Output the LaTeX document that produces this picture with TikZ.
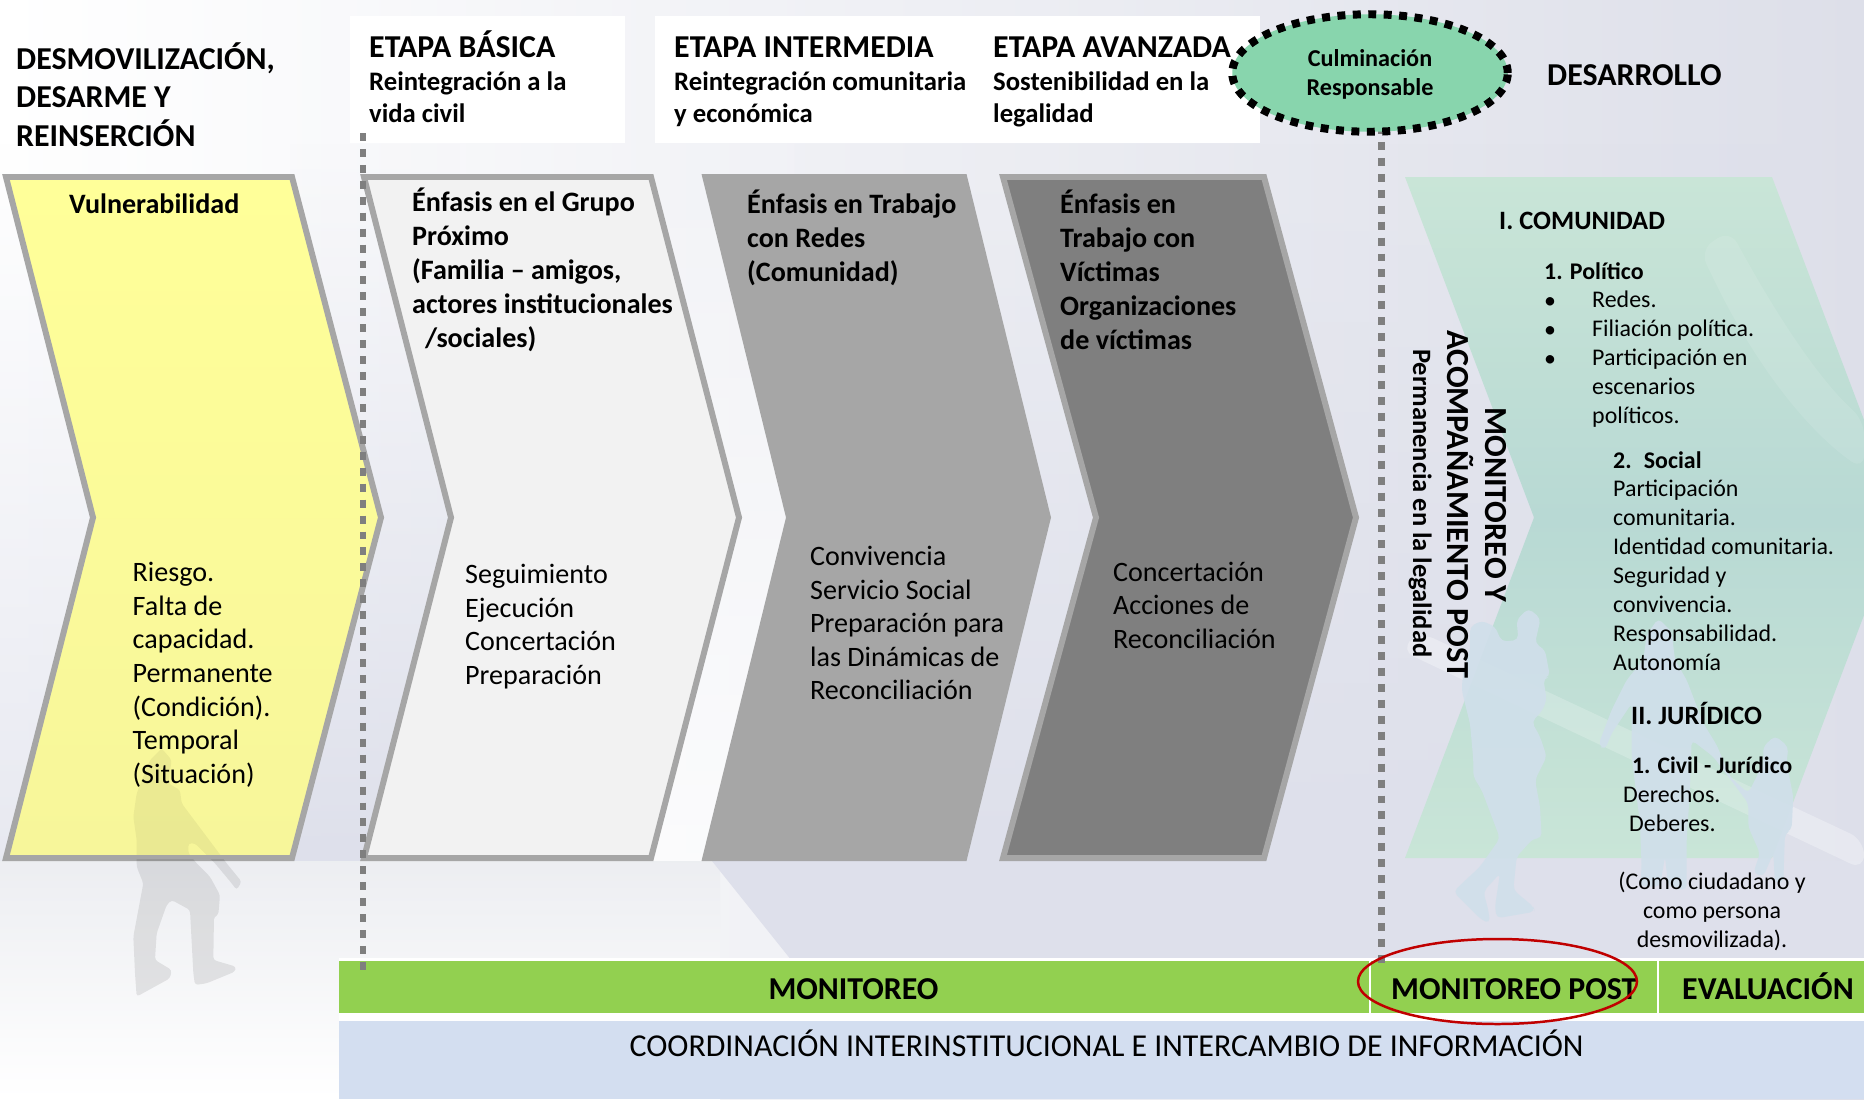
\documentclass[tikz,border=0pt]{standalone}
\usepackage{fontspec}
\usetikzlibrary{shapes.geometric,fadings}
\setmainfont{Carlito}
\definecolor{cgray}{HTML}{A6A6A6}
\definecolor{cdark}{HTML}{7F7F7F}
\definecolor{yeltop}{HTML}{FFFF99}
\definecolor{yelmid}{HTML}{EAE98D}
\definecolor{yelbot}{HTML}{F7F69A}
\definecolor{clight}{HTML}{F2F2F2}
\definecolor{cbar}{HTML}{92D050}
\definecolor{cblue}{HTML}{D3DEF0}
\definecolor{cmint}{HTML}{88D5AD}
\definecolor{cred}{HTML}{C00000}
\definecolor{cdash}{HTML}{7F7F7F}
\definecolor{cfam}{HTML}{D0DFEA}
\definecolor{bgmid}{HTML}{F0F1F3}
\definecolor{bgright}{HTML}{DDDFE9}
\definecolor{bglav}{HTML}{DEE0EB}
\definecolor{gtop}{HTML}{C9E5D7}
\definecolor{gmid}{HTML}{B8D9D4}
\tikzset{
 chev/.style={line width=6pt,draw=cgray,miter limit=10,line join=miter},
 base/.style={anchor=base west,inner sep=0pt,align=left},
 head/.style={base,font=\fontsize{32}{38.3}\selectfont\bfseries},
 sub/.style={base,font=\fontsize{26.8}{32}\selectfont\bfseries},
 emph/.style={base,font=\fontsize{28.2}{33.9}\selectfont\bfseries},
 body/.style={base,font=\fontsize{28.2}{33.7}\selectfont},
 gsec/.style={base,font=\fontsize{26.6}{29}\selectfont\bfseries},
 gb/.style={base,font=\fontsize{24}{29}\selectfont\bfseries},
 g/.style={base,font=\fontsize{24}{29}\selectfont},
 bartxt/.style={anchor=base,inner sep=0pt,font=\fontsize{32}{36}\selectfont\bfseries},
 dotline/.style={draw=cdash,line width=7pt,dash pattern=on 8pt off 8pt},
 fam/.style={fill=cfam,opacity=.92,rounded corners=5pt},
}
\def\soldierpath{(185,25) -- (215,60) -- (205,130) -- (240,150) -- (245,190) -- (290,250) -- (320,290) -- (380,370) -- (425,425) -- (410,450) -- (395,430) -- (345,370) -- (285,310) -- (265,310) -- (265,340) -- (290,370) -- (330,410) -- (360,465) -- (355,525) -- (342,530) -- (340,660) -- (408,680) -- (405,695) -- (320,730) -- (285,735) -- (280,700) -- (270,510) -- (215,480) -- (200,495) -- (170,580) -- (165,660) -- (215,690) -- (210,715) -- (110,770) -- (105,700) -- (100,590) -- (130,430) -- (110,380) -- (110,300) -- (100,230) -- (110,160) -- (150,60) -- cycle}
\begin{document}
\begin{tikzpicture}[x=1bp,y=-1bp]
\useasboundingbox (0,0) rectangle (1864,1099);
% background
\shade[left color=white,middle color=bgmid,right color=bgright] (0,0) rectangle (1864,1099);
\fill[bglav,opacity=.7,path fading=north] (0,143) rectangle (120,861);
\fill[bglav,path fading=north] (290,143) rectangle (460,861);
\fill[white,opacity=.7,path fading=north] (650,143) rectangle (795,861);
\fill[bglav,path fading=north] (795,143) rectangle (1864,861);
\shade[top color=bgmid!80!bglav,bottom color=white] (0,861) rectangle (720,1099);
\fill[bglav] (712,861) -- (1864,861) -- (1864,961) -- (792,961) -- cycle;
\fill[white,opacity=.3,rounded corners=15pt] (1400,650) -- (1420,632) -- (1864,840) -- (1864,870) -- cycle;
% header boxes
\fill[white] (350,16) rectangle (625,143);
\fill[white] (655,16) rectangle (1260,143);
% chevrons
\shade[top color=yeltop,middle color=yelmid,bottom color=yelbot] (6,177) -- (292,177) -- (381,517.5) -- (292,858) -- (6,858) -- (93,517.5) -- cycle;
\draw[chev] (6,177) -- (292,177) -- (381,517.5) -- (292,858) -- (6,858) -- (93,517.5) -- cycle;
\draw[chev,fill=clight] (364,177) -- (651,177) -- (739,517.5) -- (651,858) -- (364,858) -- (451,517.5) -- cycle;
\fill[cgray] (701.5,174) -- (966.5,174) -- (1051,517.5) -- (966.5,861) -- (701.5,861) -- (786,517.5) -- cycle;
\draw[chev,fill=cdark] (1003,177) -- (1264,177) -- (1356,517.5) -- (1264,858) -- (1003,858) -- (1096,517.5) -- cycle;
\begin{scope}
\clip (1405,177) -- (1772,177) -- (1901,517.5) -- (1772,858) -- (1405,858) -- (1534,517.5) -- cycle;
\shade[top color=gtop,bottom color=gmid] (1400,177) rectangle (1864,517.5);
\shade[top color=gmid,bottom color=gtop] (1400,517.5) rectangle (1864,858);
\fill[white,opacity=.2,rounded corners=15pt] (1400,650) -- (1420,632) -- (1864,840) -- (1864,870) -- cycle;
\fill[white,opacity=.1,rounded corners=15pt] (1700,250) .. controls (1760,380) and (1820,440) .. (1864,470) -- (1864,420) .. controls (1830,390) and (1790,340) .. (1730,230) -- cycle;
\end{scope}
% silhouettes
\begin{scope}[shift={(100,740)},x=.3333bp,y=-.3333bp]
\begin{scope}
\clip (0,0) rectangle (600,345);
\fill[black,opacity=.05,rounded corners=3pt] \soldierpath;
\end{scope}
\begin{scope}
\clip (0,360) rectangle (600,900);
\fill[black,opacity=.085,rounded corners=3pt] \soldierpath;
\end{scope}
\end{scope}
\begin{scope}[shift={(1420,590)},x=.3333bp,y=-.3333bp]
\path[fam] (150,110) -- (185,92) -- (225,110) -- (245,155) -- (295,150) -- (290,90) -- (325,55) -- (362,85) -- (345,160) -- (375,180) -- (390,260) -- (370,265) -- (380,330) -- (365,365) -- (335,395) -- (360,440) -- (380,500) -- (345,570) -- (360,650) -- (365,745) -- (340,745) -- (290,800) -- (280,900) -- (340,950) -- (345,965) -- (230,985) -- (225,950) -- (240,850) -- (190,905) -- (205,960) -- (210,1000) -- (185,990) -- (100,905) -- (180,830) -- (240,745) -- (185,600) -- (160,560) -- (160,510) -- (150,400) -- (125,300) -- (130,240) -- (150,180) -- cycle;
\path[fam] (680,135) -- (715,85) -- (755,125) -- (765,210) -- (800,270) -- (850,400) -- (890,465) -- (930,560) -- (985,610) -- (1030,520) -- (1030,470) -- (1065,437) -- (1105,470) -- (1100,520) -- (1120,620) -- (1115,720) -- (1095,730) -- (1090,880) -- (1065,880) -- (1060,790) -- (1030,860) -- (1000,850) -- (1020,790) -- (985,710) -- (985,640) -- (880,500) -- (815,450) -- (810,600) -- (800,750) -- (800,900) -- (745,890) -- (735,800) -- (720,890) -- (660,890) -- (665,830) -- (660,700) -- (635,500) -- (635,340) -- (575,430) -- (555,480) -- (535,465) -- (575,360) -- (620,270) -- (670,210) -- cycle;
\end{scope}
% bars
\fill[white] (339,958) rectangle (1864,1021);
\fill[cbar] (339,961) rectangle (1864,1013);
\fill[cblue] (339,1021) rectangle (1864,1099);
\fill[white] (1369,961) rectangle (1371,1013);
\fill[white] (1657,961) rectangle (1659,1013);
% dotted lines and ellipse
\coordinate (d1a) at (363,133);
\coordinate (d1b) at (363,973);
\coordinate (d2a) at (1381,126);
\coordinate (d2b) at (1381,967);
\draw[dotline] (d1a) -- (d1b);
\draw[dotline] (d2a) -- (d2b);
\node[ellipse,inner sep=0pt,minimum width=275.5bp,minimum height=117.5bp,fill=cmint,draw=black,line width=8pt,dash pattern=on 8pt off 7.5pt] (culm) at (1370,73) {};
\node[anchor=base,inner sep=0pt,align=center,font=\fontsize{24.3}{29}\selectfont\bfseries] (culmt) at (1370,95) {Culminación\\Responsable};
% headers
\node[head] (h1) at (16,146) {DESMOVILIZACIÓN,\\DESARME Y\\REINSERCIÓN};
\node[head] (h2) at (369,57) {ETAPA BÁSICA};
\node[sub] (h2s) at (369,122) {Reintegración a la\\vida civil};
\node[head] (h3) at (674,57) {ETAPA INTERMEDIA};
\node[sub] (h3s) at (674,122) {Reintegración comunitaria\\y económica};
\node[head] (h4) at (993,57) {ETAPA AVANZADA};
\node[sub] (h4s) at (993,122) {Sostenibilidad en la\\legalidad};
\node[head] (h5) at (1547,85) {DESARROLLO};
% chevron text
\node[emph] (e1) at (69,213) {Vulnerabilidad};
\node[emph] (e2) at (412,347) {Énfasis en el Grupo\\Próximo\\(Familia – amigos,\\actores institucionales\\\hspace{13pt}/sociales)};
\node[emph] (e3) at (747,281) {Énfasis en Trabajo\\con Redes\\(Comunidad)};
\node[emph] (e4) at (1060,349) {Énfasis en\\Trabajo con\\Víctimas\\Organizaciones\\de víctimas};
\node[body] (b1) at (132.5,783.2) {Riesgo.\\Falta de\\capacidad.\\Permanente\\(Condición).\\Temporal\\(Situación)};
\node[body] (b2) at (465,684.5) {Seguimiento\\Ejecución\\Concertación\\Preparación};
\node[body] (b3) at (810,699.8) {Convivencia\\Servicio Social\\Preparación para\\las Dinámicas de\\Reconciliación};
\node[body] (b4) at (1113,648.4) {Concertación\\Acciones de\\Reconciliación};
% rotated
\node[base,rotate=-90,font=\fontsize{32.3}{36}\selectfont\bfseries] (r1) at (1485,407) {MONITOREO Y};
\node[base,rotate=-90,font=\fontsize{32.3}{36}\selectfont\bfseries] (r2) at (1447,330) {ACOMPAÑAMIENTO POST};
\node[base,rotate=-90,font=\fontsize{26.6}{30}\selectfont\bfseries] (r3) at (1413,349) {Permanencia en la legalidad};
% green panel text
\node[gsec] (g1) at (1499,229) {I. COMUNIDAD};
\node[gb] (g2) at (1544,279) {1. Político};
\node[g] (g3a) at (1544,308) {•};
\node[g] (g3b) at (1544,337) {•};
\node[g] (g3c) at (1544,366) {•};
\node[g] (g3) at (1592,423.5) {Redes.\\Filiación política.\\Participación en\\escenarios\\políticos.};
\node[gb] (g4) at (1613,468) {2.\hspace{5pt} Social};
\node[g] (g5) at (1613,670) {Participación\\comunitaria.\\Identidad comunitaria.\\Seguridad y\\convivencia.\\Responsabilidad.\\Autonomía};
\node[gsec] (g6) at (1631,724) {II. JURÍDICO};
\node[gb,font=\fontsize{23.7}{29}\selectfont\bfseries] (g7) at (1632,773.5) {1. Civil - Jurídico};
\node[g] (g8) at (1623,802) {Derechos.};
\node[g] (g9) at (1629,831) {Deberes.};
\node[g,anchor=base,align=center] (g10) at (1712,947) {(Como ciudadano y\\como persona\\desmovilizada).};
% bars text
\node[bartxt] (m1) at (853.5,999) {MONITOREO};
\node[bartxt,anchor=base west] (m2) at (1391,999) {MONITOREO POST};
\node[bartxt,anchor=base west] (m3) at (1682,999) {EVALUACIÓN};
\node[anchor=base,inner sep=0pt,font=\fontsize{32}{36}\selectfont] (c) at (1106.5,1056) {COORDINACIÓN INTERINSTITUCIONAL E INTERCAMBIO DE INFORMACIÓN};
\node[ellipse,draw=cred,line width=2.5pt,inner sep=0pt,minimum width=279bp,minimum height=85bp] (redring) at (1497.5,981.5) {};
\end{tikzpicture}
\end{document}
